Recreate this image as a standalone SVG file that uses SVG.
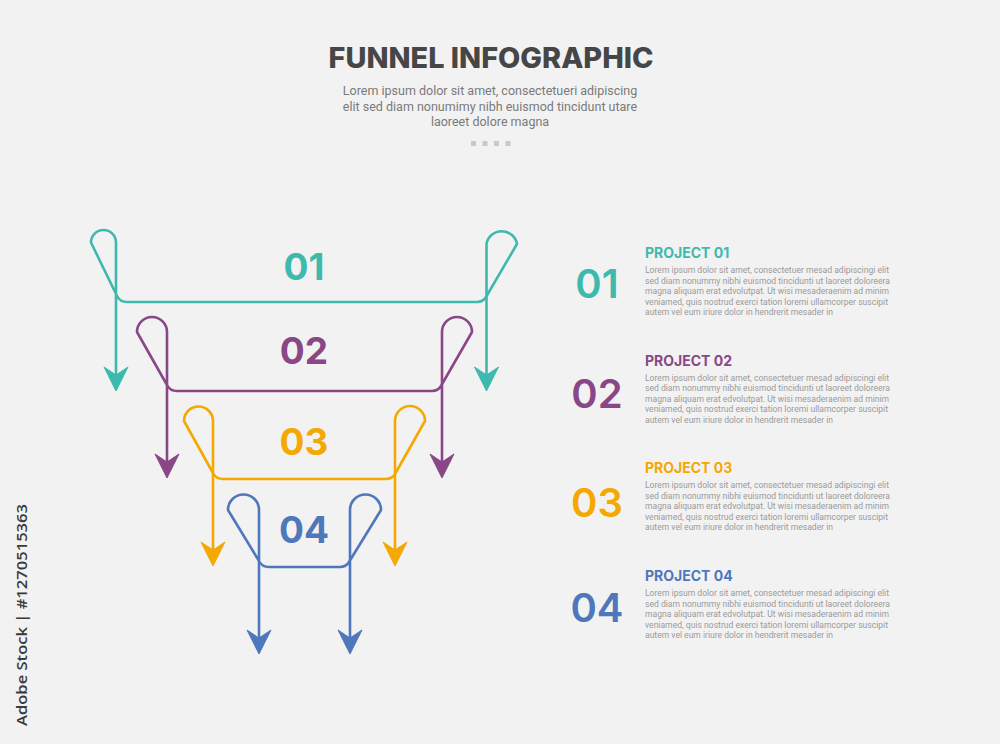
<svg xmlns="http://www.w3.org/2000/svg" xmlns:xlink="http://www.w3.org/1999/xlink" width="1000" height="744" viewBox="0 0 1000 744">
  <defs>
    <path id="ah" d="M0,0 L-12,-24 L0,-16 L12,-24 Z"/>
    <style>
      .bg { fill: #f2f2f2; }
      .ln { fill: none; stroke-width: 2.6; stroke-linejoin: round; stroke-linecap: round; }
      .c1 { stroke: #3dbaad; fill: #3dbaad; }
      .c2 { stroke: #8a4787; fill: #8a4787; }
      .c3 { stroke: #f4a800; fill: #f4a800; }
      .c4 { stroke: #4f77bb; fill: #4f77bb; }
      .ln.c1, .ln.c2, .ln.c3, .ln.c4 { fill: none; }
      .lab { font-family: Inter, "Liberation Sans", sans-serif; font-weight: 700; font-size: 37px; text-anchor: middle; stroke: none; }
      .num { font-family: Inter, "Liberation Sans", sans-serif; font-weight: 600; font-size: 40px; text-anchor: middle; stroke: none; }
      .ptitle { font-family: Inter, "Liberation Sans", sans-serif; font-weight: 700; font-size: 14px; stroke: none; }
      .body { font-family: Roboto, "Liberation Sans", sans-serif; font-size: 9px; fill: #9a9a9a; }
      .title { font-family: Inter, "Liberation Sans", sans-serif; font-weight: 800; font-size: 28px; fill: #464646; text-anchor: middle; }
      .sub { font-family: Roboto, "Liberation Sans", sans-serif; font-size: 12.5px; fill: #7a7a7a; text-anchor: middle; }
      .dot { fill: #c9c9c9; }
      .wm { font-family: "Open Sans", "Liberation Sans", sans-serif; font-weight: 600; font-size: 15px; fill: #3a3a3a; }
    </style>
  </defs>
  <rect class="bg" x="0" y="0" width="1000" height="744"/>

  <g id="header">
    <text class="title" x="491" y="68" textLength="325" lengthAdjust="spacingAndGlyphs">FUNNEL INFOGRAPHIC</text>
    <text class="sub" x="490" y="95">Lorem ipsum dolor sit amet, consectetueri adipiscing</text>
    <text class="sub" x="490" y="110.5">elit sed diam nonumimy nibh euismod tincidunt utare</text>
    <text class="sub" x="490" y="125.5">laoreet dolore magna</text>
    <rect class="dot" x="471" y="141" width="5" height="5"/>
    <rect class="dot" x="482.5" y="141" width="5" height="5"/>
    <rect class="dot" x="494" y="141" width="5" height="5"/>
    <rect class="dot" x="505.5" y="141" width="5" height="5"/>
  </g>

  <g id="stage-01">
    <path class="ln c1" d="M116,378 V242.5 A12.5,12.5 0 0 0 91,242.5 L117,296 Q120,302 127,302 H477 Q483,302 486,297 L517,244 A15.5,15.5 0 0 0 486.5,244 V378"/>
    <text class="lab c1" x="304" y="280">01</text>
  </g>

  <g id="stage-02">
    <path class="ln c2" d="M167,465 V332 A15,15 0 0 0 137,332 L167,385 Q170,391 177,391 H432 Q438,391 441,386 L472,332 A15,15 0 0 0 442,332 V465"/>
    <text class="lab c2" x="304" y="364">02</text>
  </g>

  <g id="stage-03">
    <path class="ln c3" d="M213,553 V421 A14.5,14.5 0 0 0 184,421 L213,473 Q216,479 223,479 H386 Q392,479 395,474 L425,421 A15,15 0 0 0 395,421 V553"/>
    <text class="lab c3" x="304" y="455">03</text>
  </g>

  <g id="stage-04">
    <path class="ln c4" d="M259,641 V510 A15.5,15.5 0 0 0 228,510 L259,561 Q262,567 269,567 H340 Q346,567 349,562 L381,510 A15.5,15.5 0 0 0 350,510 V641"/>
    <text class="lab c4" x="304" y="543">04</text>
  </g>

  <g id="connectors">
    <use xlink:href="#ah" href="#ah" class="c1" x="116" y="391"/>
    <use xlink:href="#ah" href="#ah" class="c1" x="486.5" y="391"/>
    <use xlink:href="#ah" href="#ah" class="c2" x="167" y="478"/>
    <use xlink:href="#ah" href="#ah" class="c2" x="442" y="478"/>
    <use xlink:href="#ah" href="#ah" class="c3" x="213" y="566"/>
    <use xlink:href="#ah" href="#ah" class="c3" x="395" y="566"/>
    <use xlink:href="#ah" href="#ah" class="c4" x="259" y="654"/>
    <use xlink:href="#ah" href="#ah" class="c4" x="350" y="654"/>
  </g>

  <g id="project-01">
    <text class="num c1" x="597" y="298">01</text>
    <text class="ptitle c1" x="645" y="258">PROJECT 01</text>
    <text class="body" x="645" y="273"><tspan x="645" y="273" textLength="244" lengthAdjust="spacingAndGlyphs">Lorem ipsum dolor sit amet, consectetuer mesad adipiscingi elit</tspan><tspan x="645" y="283.5" textLength="245" lengthAdjust="spacingAndGlyphs">sed diam nonummy nibhi euismod tincidunti ut laoreet doloreera</tspan><tspan x="645" y="294" textLength="244" lengthAdjust="spacingAndGlyphs">magna aliquam erat edvolutpat. Ut wisi mesaderaenim ad minim</tspan><tspan x="645" y="304.5" textLength="243" lengthAdjust="spacingAndGlyphs">veniamed, quis nostrud exerci tation loremi ullamcorper suscipit</tspan><tspan x="645" y="315" textLength="188" lengthAdjust="spacingAndGlyphs">autem vel eum iriure dolor in hendrerit mesader in</tspan></text>
  </g>

  <g id="project-02">
    <text class="num c2" x="597" y="408">02</text>
    <text class="ptitle c2" x="645" y="366">PROJECT 02</text>
    <text class="body"><tspan x="645" y="380.5" textLength="244" lengthAdjust="spacingAndGlyphs">Lorem ipsum dolor sit amet, consectetuer mesad adipiscingi elit</tspan><tspan x="645" y="391" textLength="245" lengthAdjust="spacingAndGlyphs">sed diam nonummy nibhi euismod tincidunti ut laoreet doloreera</tspan><tspan x="645" y="401.5" textLength="244" lengthAdjust="spacingAndGlyphs">magna aliquam erat edvolutpat. Ut wisi mesaderaenim ad minim</tspan><tspan x="645" y="412" textLength="243" lengthAdjust="spacingAndGlyphs">veniamed, quis nostrud exerci tation loremi ullamcorper suscipit</tspan><tspan x="645" y="422.5" textLength="188" lengthAdjust="spacingAndGlyphs">autem vel eum iriure dolor in hendrerit mesader in</tspan></text>
  </g>

  <g id="project-03">
    <text class="num c3" x="597" y="517">03</text>
    <text class="ptitle c3" x="645" y="473">PROJECT 03</text>
    <text class="body"><tspan x="645" y="488" textLength="244" lengthAdjust="spacingAndGlyphs">Lorem ipsum dolor sit amet, consectetuer mesad adipiscingi elit</tspan><tspan x="645" y="498.5" textLength="245" lengthAdjust="spacingAndGlyphs">sed diam nonummy nibhi euismod tincidunti ut laoreet doloreera</tspan><tspan x="645" y="509" textLength="244" lengthAdjust="spacingAndGlyphs">magna aliquam erat edvolutpat. Ut wisi mesaderaenim ad minim</tspan><tspan x="645" y="519.5" textLength="243" lengthAdjust="spacingAndGlyphs">veniamed, quis nostrud exerci tation loremi ullamcorper suscipit</tspan><tspan x="645" y="530" textLength="188" lengthAdjust="spacingAndGlyphs">autem vel eum iriure dolor in hendrerit mesader in</tspan></text>
  </g>

  <g id="project-04">
    <text class="num c4" x="597" y="622">04</text>
    <text class="ptitle c4" x="645" y="581">PROJECT 04</text>
    <text class="body"><tspan x="645" y="596" textLength="244" lengthAdjust="spacingAndGlyphs">Lorem ipsum dolor sit amet, consectetuer mesad adipiscingi elit</tspan><tspan x="645" y="606.5" textLength="245" lengthAdjust="spacingAndGlyphs">sed diam nonummy nibhi euismod tincidunti ut laoreet doloreera</tspan><tspan x="645" y="617" textLength="244" lengthAdjust="spacingAndGlyphs">magna aliquam erat edvolutpat. Ut wisi mesaderaenim ad minim</tspan><tspan x="645" y="627.5" textLength="243" lengthAdjust="spacingAndGlyphs">veniamed, quis nostrud exerci tation loremi ullamcorper suscipit</tspan><tspan x="645" y="638" textLength="188" lengthAdjust="spacingAndGlyphs">autem vel eum iriure dolor in hendrerit mesader in</tspan></text>
  </g>

  <g id="side-label">
    <text class="wm" transform="translate(27,726) rotate(-90)" textLength="222" lengthAdjust="spacingAndGlyphs">Adobe Stock | #1270515363</text>
  </g>
</svg>
